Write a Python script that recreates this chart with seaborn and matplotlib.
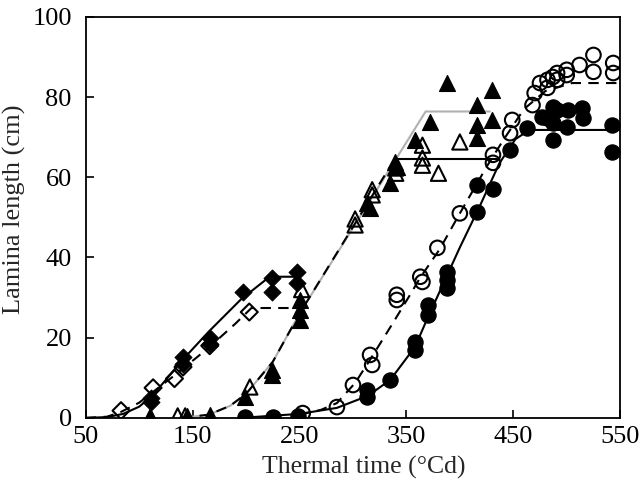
import numpy as np
import matplotlib
matplotlib.use('Agg')
import matplotlib.pyplot as plt
import seaborn as sns

# Observed lamina lengths (cm) vs thermal time (°Cd)
fd_x = [111, 111, 141, 141, 166, 166, 197, 224, 224, 248, 248]
fd_y = [5, 4, 15.2, 13.5, 20, 18.5, 31.4, 34.9, 31.4, 36.4, 33.7]

od_x = [83, 113, 133, 141, 166, 203]
od_y = [1.8, 7.5, 9.8, 12.7, 18, 26.4]

ft_x = [110, 145, 166, 199, 224, 224, 250, 250, 250, 313, 316, 335, 339, 341,
        358, 372, 388, 416, 416, 416, 430, 430]
ft_y = [0.5, 0.5, 0.8, 5.2, 12, 10.7, 29.4, 27, 24.5, 53.6, 52.4, 58.6, 63.8, 62.6,
        69.3, 73.8, 83.5, 78, 73, 69.8, 81.8, 74.3]

ot_x = [136, 143, 203.5, 252, 302, 302, 318, 318, 340, 340, 365, 365, 365, 380, 400]
ot_y = [0.5, 0.5, 7.7, 32, 49.6, 48.1, 56.9, 55.6, 62.3, 61, 68, 64.8, 63, 61, 68.8]

oc_x = [253, 285, 300, 316, 318, 341, 341, 363, 365, 379, 400, 431, 431, 447, 449,
        468, 470, 475, 482, 482, 487, 491, 491, 500, 500, 512, 525, 525, 543.5, 543.5]
oc_y = [1.2, 2.7, 8.2, 15.7, 13.2, 30.7, 29.4, 35.2, 33.9, 42.4, 51, 65.6, 63.6, 71, 74.3,
        78, 81, 83.5, 84.3, 82.3, 85, 86, 84.3, 86.8, 85.5, 88, 90.5, 86.3, 88.5, 86]

fc_x = [199, 225, 249, 313, 313, 335, 358, 358, 370, 370, 388, 388, 388, 416, 416,
        431, 447, 463, 477, 482, 487, 487, 487, 491, 501, 514, 515, 500, 542.5, 542.5]
fc_y = [0.3, 0.3, 0.5, 7, 5.2, 9.5, 19, 17, 28.2, 25.7, 36.4, 34.4, 32.4, 58, 51.4,
        57, 66.8, 72.3, 75, 74.8, 77.6, 73.6, 69.3, 76.8, 76.8, 77.3, 74.8, 72.6, 73, 66.3]

# Fitted curves
fd_fit_x = [50, 70, 85, 100, 112, 125, 140, 165, 195, 222, 250]
fd_fit_y = [0, 0.2, 1, 2.8, 5.5, 9.5, 14.3, 21.5, 29.5, 35.2, 35.2]

od_fit_x = [50, 70, 83, 100, 113, 135, 165, 190, 205, 250]
od_fit_y = [0, 0.3, 1.5, 3.8, 6.5, 11, 17.5, 23.5, 27.4, 27.4]

ft_fit_x = [140, 165, 185, 200, 225, 250, 368, 428]
ft_fit_y = [0, 0.8, 3, 6, 14, 26, 76.4, 76.4]

ot_fit_x = [140, 165, 185, 200, 225, 250, 339]
ot_fit_y = [0, 0.8, 3, 6, 14, 26, 64.5]
ot_plateau_x = [339, 437]
ot_plateau_y = [64.5, 64.5]

fc_fit_x = [195, 250, 285, 314, 335, 358, 370, 388, 400, 419, 437, 452, 465, 550]
fc_fit_y = [0, 1, 2.5, 5.5, 9.5, 17.7, 25, 35.5, 42.5, 53, 63.5, 69.5, 71.8, 71.8]

oc_fit_x = [250, 270, 285, 302, 316, 337, 353, 363, 381, 400, 425, 440, 460, 480, 505, 550]
oc_fit_y = [0.8, 2, 3.7, 8.7, 14.5, 23.5, 30.5, 35, 42, 51, 62.6, 69, 77, 81.5, 83.5, 83.5]

sns.set_style('ticks')
plt.rcParams['font.family'] = ['Liberation Serif', 'DejaVu Serif']

fig, ax = plt.subplots(figsize=(6.4, 4.82), dpi=100)
fig.subplots_adjust(left=0.134, right=0.969, top=0.965, bottom=0.133)

dash = (0, (5, 3.5))
line_kw = dict(sort=False, estimator=None, linewidth=1.5, ax=ax)

sns.lineplot(x=ft_fit_x, y=ft_fit_y, color='#b0b0b0', **line_kw)
sns.lineplot(x=fd_fit_x, y=fd_fit_y, color='black', **line_kw)
sns.lineplot(x=od_fit_x, y=od_fit_y, color='black', linestyle=dash, **line_kw)
sns.lineplot(x=ot_fit_x, y=ot_fit_y, color='black', linestyle=dash, **line_kw)
sns.lineplot(x=ot_plateau_x, y=ot_plateau_y, color='black', **line_kw)
sns.lineplot(x=fc_fit_x, y=fc_fit_y, color='black', **line_kw)
sns.lineplot(x=oc_fit_x, y=oc_fit_y, color='black', linestyle=dash, **line_kw)

# filled markers
sns.scatterplot(x=fd_x, y=fd_y, marker='D', s=75, color='black', edgecolor='black', zorder=3, ax=ax)
sns.scatterplot(x=ft_x, y=ft_y, marker='^', s=130, color='black', edgecolor='black', zorder=3, ax=ax)
sns.scatterplot(x=fc_x, y=fc_y, marker='o', s=120, color='black', edgecolor='black', zorder=3, ax=ax)


def open_markers(x, y, marker, s):
    sns.scatterplot(x=x, y=y, marker=marker, s=s, color='black', zorder=4, ax=ax)
    pc = ax.collections[-1]
    pc.set_facecolor('none')
    pc.set_edgecolor('black')
    pc.set_linewidth(1.5)


open_markers(od_x, od_y, 'D', 75)
open_markers(ot_x, ot_y, '^', 120)
open_markers(oc_x, oc_y, 'o', 110)

ax.set_xlim(50, 550)
ax.set_ylim(0, 100)
ax.set_xticks([50, 150, 250, 350, 450, 550])
ax.set_yticks([0, 20, 40, 60, 80, 100])
ax.tick_params(direction='in', length=6, width=1.2, labelsize=19, colors='black',
               top=False, right=False)
ax.tick_params(axis='x', pad=6)
ax.tick_params(axis='y', pad=10)
for sp in ax.spines.values():
    sp.set_color('black')
    sp.set_linewidth(1.3)
    sp.set_visible(True)

ax.set_xlabel('Thermal time (°Cd)', fontsize=18.5)
ax.set_ylabel('Lamina length (cm)', fontsize=19)
ax.xaxis.set_label_coords(0.52, -0.095)
ax.yaxis.set_label_coords(-0.112, 0.52)

fig.savefig('out.png', dpi=100)
